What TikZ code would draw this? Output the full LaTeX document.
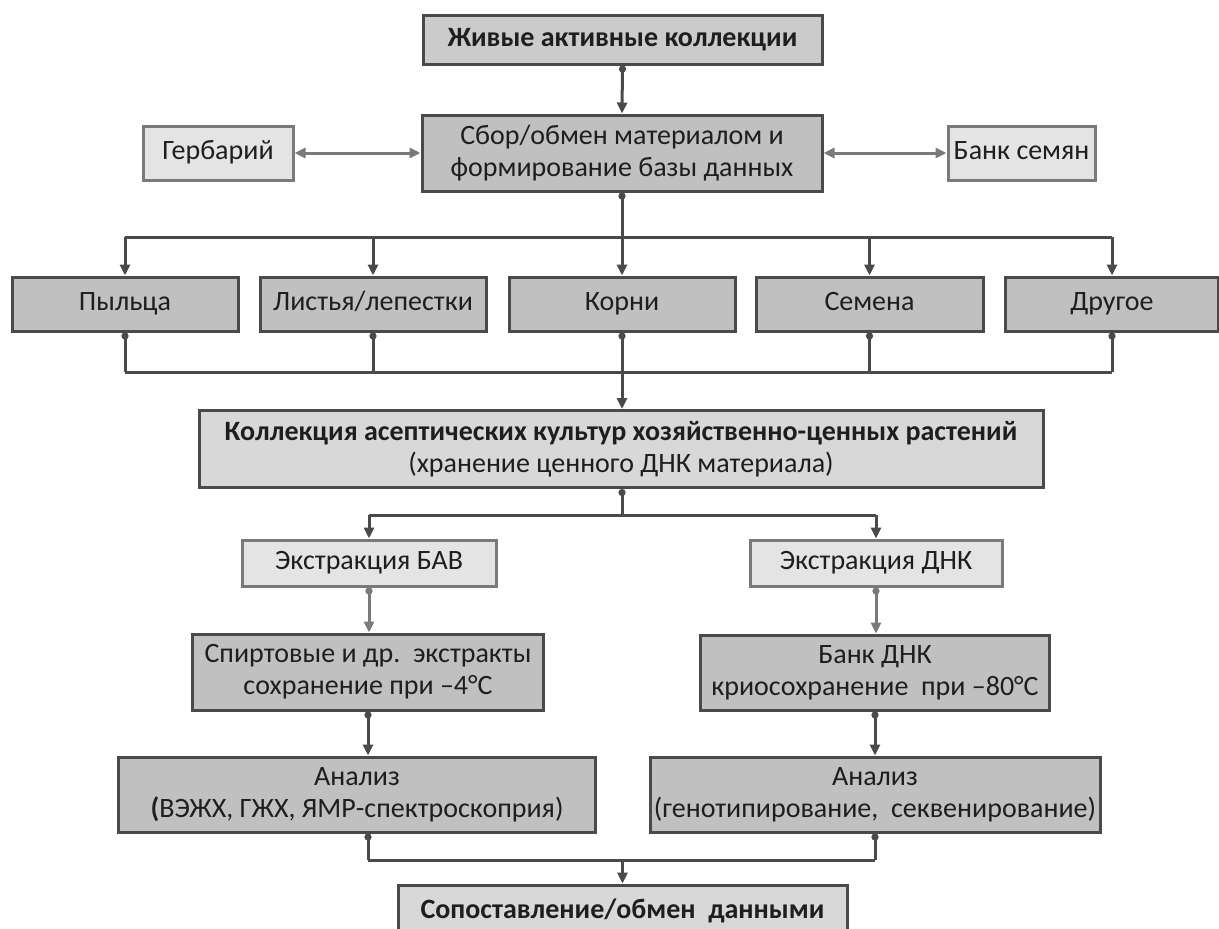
\documentclass[tikz,border=0pt]{standalone}
\usepackage{fontspec}
\setmainfont{Carlito}
\usetikzlibrary{arrows.meta}
\definecolor{dfill}{HTML}{C0C0C0}
\definecolor{mfill}{HTML}{CBCBCB}
\definecolor{lfill}{HTML}{D8D8D8}
\definecolor{llfill}{HTML}{E4E4E4}
\definecolor{dline}{HTML}{4A4A4A}
\definecolor{gline}{HTML}{7A7A7A}
\definecolor{txt}{HTML}{1E1E1E}
\tikzset{
  box/.style={draw=dline, line width=3pt, fill=dfill, inner sep=0pt, align=center,
    text=txt, font=\fontsize{28}{32}\selectfont},
  lbox/.style={draw=gline, line width=3pt, fill=llfill, inner sep=0pt, align=center,
    text=txt, font=\fontsize{28}{32}\selectfont},
  one/.style={text height=19pt, text depth=6pt},
  conn/.style={draw=dline, line width=3pt, {Circle[length=7pt]}-{Triangle[length=11pt,width=10pt]}},
  gconn/.style={draw=gline, line width=3pt, {Circle[length=7pt]}-{Triangle[length=11pt,width=10pt]}},
  dconn/.style={draw=gline, line width=3pt, {Triangle[length=11pt,width=10pt]}-{Triangle[length=11pt,width=10pt]}},
  arr/.style={draw=dline, line width=3pt, -{Triangle[length=11pt,width=10pt]}},
  plain/.style={draw=dline, line width=3pt},
  plaindot/.style={draw=dline, line width=3pt, {Circle[length=7pt]}-},
}
\begin{document}
\begin{tikzpicture}[x=1pt,y=-1pt]
\useasboundingbox[fill=white] (0,0) rectangle (1219,929);
% nodes
\node[box, one, fill=mfill, minimum width=399, minimum height=49] (top) at (622.5,39.5) {\bfseries Живые активные коллекции};
\node[box, minimum width=400, minimum height=76] (sbor) at (622,153) {Сбор/обмен материалом и\\формирование базы данных};
\node[lbox, one, minimum width=150, minimum height=54] (gerb) at (218,153) {Гербарий};
\node[lbox, one, minimum width=147, minimum height=54] (bank) at (1021.5,153) {Банк семян};
\node[box, one, minimum width=226, minimum height=54] (p1) at (125,304) {Пыльца};
\node[box, one, minimum width=226, minimum height=54] (p2) at (373,304) {Листья/лепестки};
\node[box, one, minimum width=226, minimum height=54] (p3) at (622,304) {Корни};
\node[box, one, minimum width=227, minimum height=54] (p4) at (869.5,304) {Семена};
\node[box, one, minimum width=213, minimum height=54] (p5) at (1112,304) {Другое};
\node[box, fill=lfill, minimum width=844, minimum height=77] (coll) at (621,449) {\textbf{Коллекция асептических культур хозяйственно-ценных растений}\\(хранение ценного ДНК материала)};
\node[lbox, one, minimum width=254, minimum height=46] (exb) at (369,563) {Экстракция БАВ};
\node[lbox, one, minimum width=252, minimum height=46] (exd) at (876,563) {Экстракция ДНК};
\node[box, minimum width=351, minimum height=76] (spirt) at (368,672) {Спиртовые и др.\ \ экстракты\\сохранение при –4°С};
\node[box, minimum width=349, minimum height=75] (bdnk) at (875,672.5) {Банк ДНК\\криосохранение\ \ при –80°С};
\node[box, minimum width=477, minimum height=75] (an1) at (357,794.5) {Анализ\\\textbf{(}ВЭЖХ, ГЖХ, ЯМР-спектроскоприя)};
\node[box, minimum width=450, minimum height=75] (an2) at (875,794.5) {Анализ\\(генотипирование,\ \ секвенирование)};
\node[box, one, fill=lfill, minimum width=449, minimum height=54] (sop) at (622.5,912) {\bfseries Сопоставление/обмен\ \ данными};
% coordinates
\coordinate (b1) at (0,237);
\coordinate (b2) at (0,372);
\coordinate (b3) at (0,515);
\coordinate (b4) at (0,860);
% connectors
\draw[conn] (top.south) -- (sbor.north);
\draw[dconn] (gerb.east) -- (sbor.west);
\draw[dconn] (bank.west) -- (sbor.east);
\draw[plaindot] (sbor.south) -- (sbor.south |- b1);
\draw[plain] (p1.north |- b1) -- (p5.north |- b1);
\foreach \p in {p1,p2,p3,p4,p5}{
  \draw[arr] (\p.north |- b1) -- (\p.north);
  \draw[plaindot] (\p.south) -- (\p.south |- b2);
}
\draw[plain] (p1.south |- b2) -- (p5.south |- b2);
\draw[arr] (p3.south |- b2) -- (coll.north -| p3.south);
\draw[plaindot] (coll.south -| p3.south) -- (p3.south |- b3);
\draw[plain] (exb.north |- b3) -- (exd.north |- b3);
\draw[arr] (exb.north |- b3) -- (exb.north);
\draw[arr] (exd.north |- b3) -- (exd.north);
\draw[gconn] (exb.south) -- (exb.south |- spirt.north);
\draw[gconn] (exd.south) -- (exd.south |- bdnk.north);
\draw[conn] (spirt.south) -- (spirt.south |- an1.north);
\draw[conn] (bdnk.south) -- (bdnk.south |- an2.north);
\draw[plaindot] (an1.south -| spirt.south) -- (spirt.south |- b4);
\draw[plaindot] (an2.south -| bdnk.south) -- (bdnk.south |- b4);
\draw[plain] (spirt.south |- b4) -- (bdnk.south |- b4);
\draw[arr] (sop.north |- b4) -- (sop.north);
\end{tikzpicture}
\end{document}
